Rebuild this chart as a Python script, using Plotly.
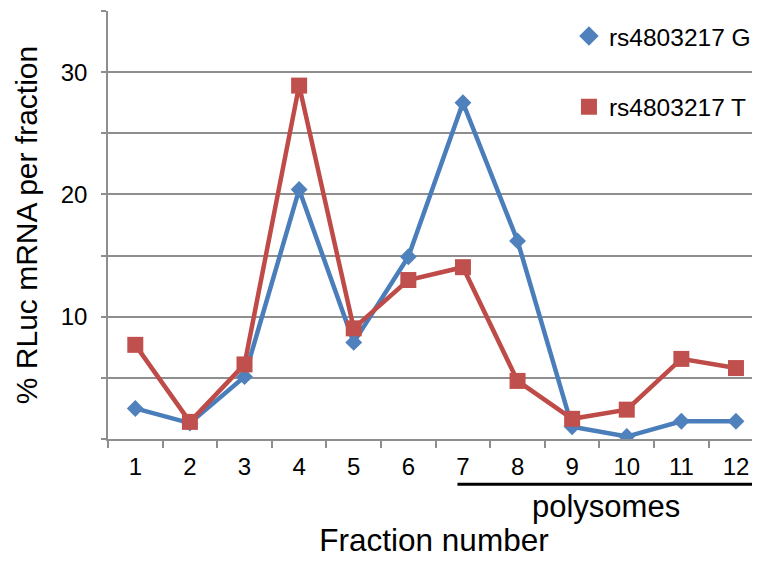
import plotly.graph_objects as go

fractions = ["1", "2", "3", "4", "5", "6", "7", "8", "9", "10", "11", "12"]
g_values = [2.5, 1.3, 5.1, 20.4, 7.9, 14.9, 27.5, 16.2, 1.0, 0.2, 1.45, 1.45]
t_values = [7.7, 1.4, 6.1, 28.9, 9.05, 13.0, 14.05, 4.75, 1.65, 2.4, 6.55, 5.8]
series_names = ["rs4803217 G", "rs4803217 T"]
y_tickvals = [0, 5, 10, 15, 20, 25, 30, 35]
y_ticktext = ["", "", "10", "", "20", "", "30", ""]

BLUE_LINE = "#4A7EBB"
BLUE_MARK = "#4F81BD"
RED_LINE = "#BE4B48"
RED_MARK = "#C0504D"
GRID = "#8E8E8E"
FONT = "Liberation Sans, Arial, sans-serif"

fig = go.Figure()
fig.add_trace(go.Scatter(
    x=fractions, y=g_values, mode="lines+markers", showlegend=False,
    line=dict(color=BLUE_LINE, width=4.5),
    marker=dict(symbol="diamond", size=13, color=BLUE_MARK),
))
fig.add_trace(go.Scatter(
    x=fractions, y=t_values, mode="lines+markers", showlegend=False,
    line=dict(color=RED_LINE, width=4.5),
    marker=dict(symbol="square", size=16, color=RED_MARK),
))
# legend-only entries (markers only, as in the reference)
fig.add_trace(go.Scatter(
    x=[None], y=[None], mode="markers", name=series_names[0], legendgroup="g",
    marker=dict(symbol="diamond", size=15, color=BLUE_MARK),
))
fig.add_trace(go.Scatter(
    x=[None], y=[None], mode="markers", name=series_names[1], legendgroup="t",
    marker=dict(symbol="square", size=17, color=RED_MARK),
))

# the page body has an 8px margin, so the figure is sized/offset to compensate
fig.update_layout(
    width=752, height=555,
    margin=dict(l=100, r=0, t=3, b=124),
    paper_bgcolor="white", plot_bgcolor="white",
    font=dict(family=FONT, color="black"),
    legend=dict(
        x=0.707, y=0.994, xanchor="left", yanchor="top",
        font=dict(size=24.5, color="black"), bgcolor="rgba(0,0,0,0)",
        tracegroupgap=36, itemwidth=30,
    ),
    xaxis=dict(
        type="category", categoryorder="array", categoryarray=fractions,
        range=[-0.5, 11.44], tickson="boundaries", automargin=False,
        ticks="outside", ticklen=7, tickwidth=1.5, tickcolor=GRID,
        showline=True, linecolor=GRID, linewidth=1.5,
        showgrid=False, zeroline=False,
        tickfont=dict(size=24, color="black"),
        ticklabelstandoff=5,
        title=dict(text="Fraction number", font=dict(size=31.5, color="black"), standoff=50),
    ),
    yaxis=dict(
        range=[0, 35], tickvals=y_tickvals, ticktext=y_ticktext, automargin=False,
        ticks="outside", ticklen=5, tickwidth=1.5, tickcolor=GRID,
        showline=True, linecolor=GRID, linewidth=1.5,
        showgrid=True, gridcolor=GRID, gridwidth=1.5, zeroline=False,
        tickfont=dict(size=24, color="black"),
        ticklabelstandoff=9,
        title=dict(text="% RLuc mRNA per fraction", font=dict(size=30, color="black"), standoff=14),
    ),
)

# "polysomes" bracket under fractions 7-12
fig.add_shape(type="line", xref="x", yref="paper", x0=5.9, x1=11.39, y0=-0.106, y1=-0.106,
              line=dict(color="black", width=3))
fig.add_annotation(text="polysomes", xref="x", yref="paper", x=8.62, y=-0.158,
                   showarrow=False, font=dict(size=31, color="black"), yanchor="middle")

fig.write_html("out.html")
